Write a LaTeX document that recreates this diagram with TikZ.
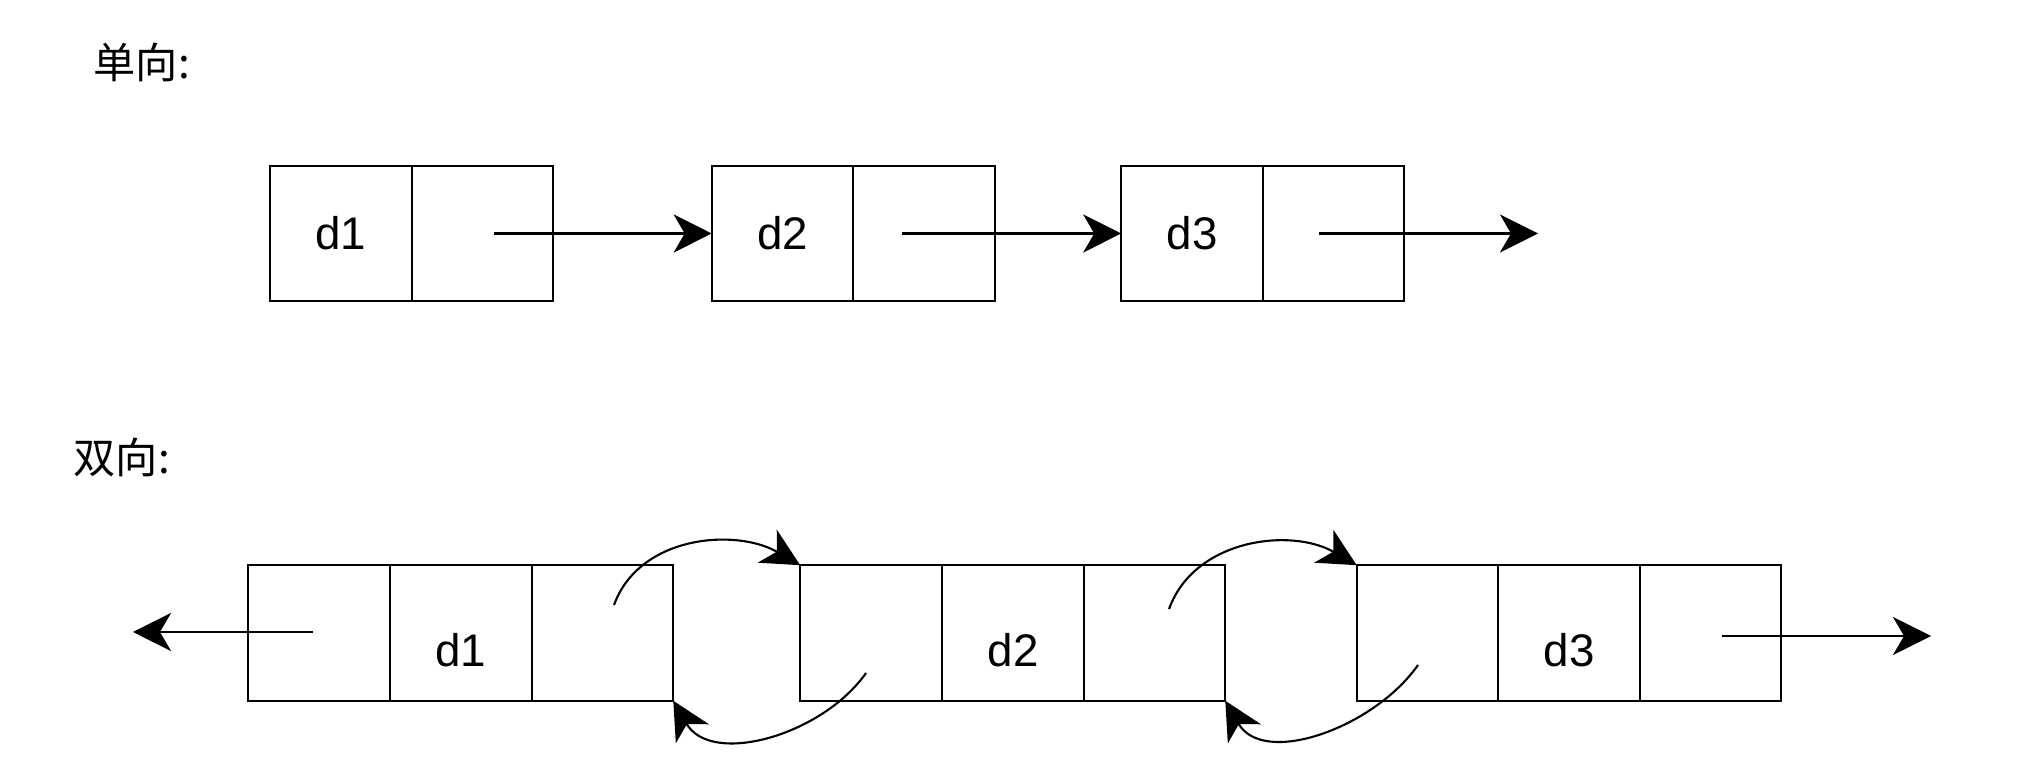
\documentclass[tikz,border=0pt]{standalone}
\usepackage{fontspec}
\setmainfont{Liberation Sans}
\newfontfamily\cjk{Noto Sans CJK SC}
\usepackage{tikz}
\usetikzlibrary{arrows.meta,positioning}
\tikzset{
  cell/.style  = {draw, line width=0.6pt, rectangle, minimum width=1.415cm,
                  minimum height=1.355cm, inner sep=0pt, outer sep=0pt,
                  font=\fontsize{13}{15}\selectfont},
  low/.style   = {text height=6.6mm, text depth=0pt},
  link/.style  = {-{Stealth[length=3.8mm,width=3.8mm,inset=1.1mm]}, line width=0.6pt},
  title/.style = {anchor=west, inner sep=0pt, font=\cjk\fontsize{12}{14}\selectfont},
}

\begin{document}
\begin{tikzpicture}[x=0.01cm,y=0.01cm]
\useasboundingbox (0,0) rectangle (2018,779);
% singly linked
\node[title] (t1) at (93,717) {单向:};
\node[cell] (sd1) at (341,545.5) {d1};
\node[cell] (sn1) at (482.5,545.5) {};
\node[cell] (sd2) at (782.5,545.5) {d2};
\node[cell] (sn2) at (924,545.5) {};
\node[cell] (sd3) at (1192,545.5) {d3};
\node[cell] (sn3) at (1333.5,545.5) {};
\coordinate (s1) at (494,545.5);
\coordinate (s2) at (902,545.5);
\coordinate (s3) at (1319,545.5);
\coordinate (s4) at (1538,545.5);
\draw[link] (s1) -- (sd2.west);
\draw[link] (s2) -- (sd3.west);
\draw[link] (s3) -- (s4);
% doubly linked
\node[title] (t2) at (73,322) {双向:};
\node[cell] (dp1) at (319,146) {};
\node[cell,low] (dd1) at (461,146) {d1};
\node[cell] (dn1) at (602.5,146) {};
\node[cell] (dp2) at (871,146) {};
\node[cell,low] (dd2) at (1013,146) {d2};
\node[cell] (dn2) at (1154.5,146) {};
\node[cell] (dp3) at (1427.5,146) {};
\node[cell,low] (dd3) at (1569,146) {d3};
\node[cell] (dn3) at (1710.5,146) {};
\coordinate (l0) at (313,147);
\coordinate (e0) at (133,147);
\coordinate (l4) at (1722,143);
\coordinate (e4) at (1931,143);
\draw[link] (l0) -- (e0);
\draw[link] (l4) -- (e4);
\coordinate (f1) at (614,174);
\coordinate (r1) at (866,106);
\coordinate (f2) at (1169,170);
\coordinate (r2) at (1418,114);
\draw[link] (f1) to[out=70,in=150] (dp2.north west);
\draw[link] (r1) to[out=235,in=300] (dn1.south east);
\draw[link] (f2) to[out=70,in=150] (dp3.north west);
\draw[link] (r2) to[out=235,in=300] (dn2.south east);
\end{tikzpicture}
\end{document}
